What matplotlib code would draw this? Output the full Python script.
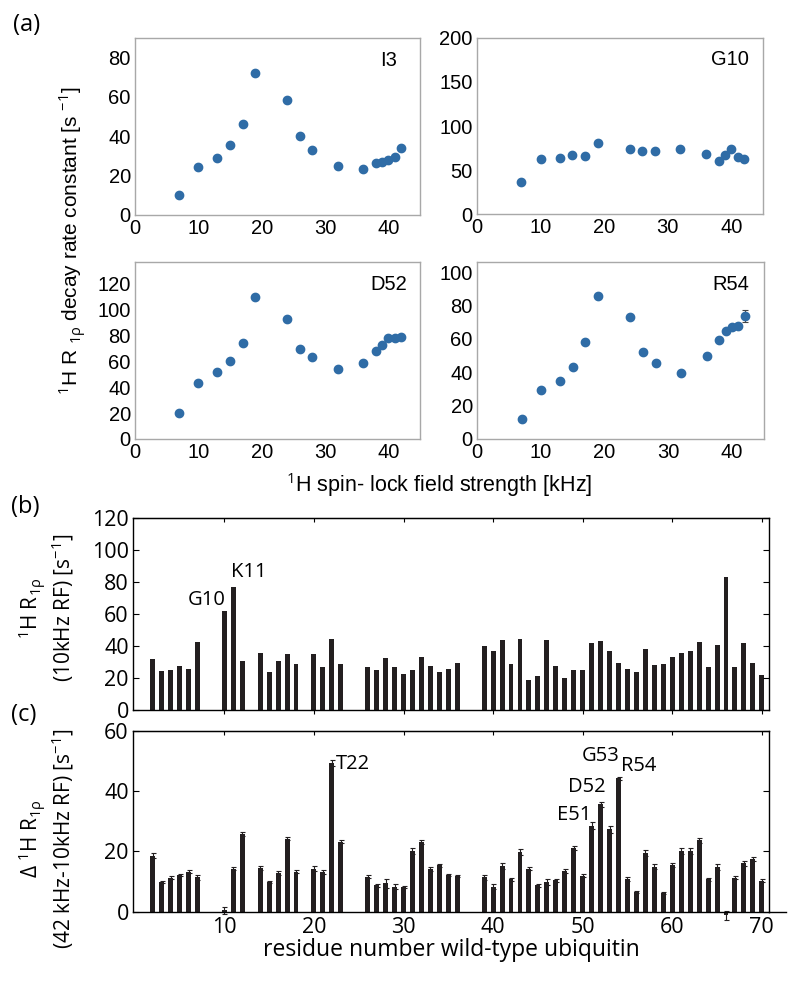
import matplotlib
matplotlib.use("Agg")
import matplotlib.pyplot as plt

plt.rcParams["font.family"] = ["Open Sans", "DejaVu Sans"]
plt.rcParams["mathtext.fontset"] = "custom"
plt.rcParams["mathtext.rm"] = "Open Sans"
plt.rcParams["mathtext.it"] = "Open Sans:italic"

# ---- panel (a): R1rho dispersion for four residues ----
spin_lock_khz = [7, 10, 13, 15, 17, 19, 24, 26, 28, 32, 36, 38, 39, 40, 41, 42]
i3_rate = [10.1, 24.5, 29.1, 35.7, 46.4, 72.2, 58.7, 40.4, 32.8, 24.9, 23.5, 26.2, 27.1, 28.1, 29.6, 34.2]
g10_rate = [36.2, 62.3, 63.4, 67.2, 65.7, 80.8, 74.0, 72.0, 72.0, 73.6, 68.7, 60.4, 66.8, 73.6, 65.3, 62.3]
d52_rate = [19.9, 43.2, 51.5, 60.3, 74.0, 110.2, 92.8, 69.8, 63.1, 53.8, 59.0, 68.3, 72.9, 78.4, 78.1, 78.6]
r54_rate = [12.0, 29.2, 34.8, 43.4, 57.8, 85.4, 72.8, 52.0, 45.4, 39.8, 50.0, 59.2, 64.6, 67.0, 67.6, 73.6]
d52_err = [0, 0, 0, 0, 0, 0, 0, 0, 0, 0, 0, 0, 0, 0, 0, 1.5]
r54_err = [0, 0, 0, 0, 0, 0, 0, 0, 0, 0, 0, 0, 0, 0, 0, 3.5]

# ---- panels (b) and (c): per-residue values ----
residues = [2, 3, 4, 5, 6, 7, 10, 11, 12, 14, 15, 16, 17, 18, 20, 21, 22, 23,
            26, 27, 28, 29, 30, 31, 32, 33, 34, 35, 36, 39, 40, 41, 42, 43, 44,
            45, 46, 47, 48, 49, 50, 51, 52, 53, 54, 55, 56, 57, 58, 59, 60, 61,
            62, 63, 64, 65, 66, 67, 68, 69, 70]
r1rho_10khz = [32.1, 24.6, 25.3, 27.7, 25.9, 42.4, 62.1, 76.6, 30.8, 35.6, 23.8, 30.8, 35.2, 28.6, 34.8, 26.9, 44.1, 28.6,
               26.7, 25.3, 32.5, 26.9, 22.2, 25.3, 33.1, 27.7, 23.6, 25.5, 29.4, 39.8, 37.1, 43.5, 28.8, 44.3, 18.8,
               21.5, 43.7, 27.7, 19.7, 25.0, 25.0, 42.0, 43.1, 36.6, 29.2, 25.9, 23.8, 37.9, 28.2, 28.8, 33.1, 35.4,
               37.1, 42.7, 26.7, 40.6, 83.2, 26.9, 42.0, 29.6, 21.7]
delta_r1rho = [18.6, 9.9, 11.2, 12.2, 13.2, 11.4, 0.4, 14.3, 25.7, 14.4, 9.9, 12.8, 24.2, 13.3, 14.3, 13.2, 49.4, 23.3,
               11.6, 8.8, 9.4, 8.3, 8.2, 20.2, 23.1, 14.2, 15.4, 12.2, 11.8, 11.4, 8.3, 15.2, 10.8, 19.7, 14.3,
               8.7, 9.7, 10.4, 13.4, 21.2, 11.9, 28.6, 35.6, 27.3, 44.3, 10.9, 6.6, 19.6, 14.9, 6.2, 15.6, 20.2,
               20.3, 23.7, 10.7, 14.9, -1.2, 11.3, 16.1, 17.6, 10.2]
delta_err = [0.8, 0.4, 0.5, 0.4, 0.5, 0.9, 1.2, 0.4, 0.6, 0.7, 0.4, 0.6, 0.5, 0.6, 0.8, 0.7, 1.0, 0.6,
             0.5, 0.5, 1.5, 0.8, 0.4, 1.0, 0.7, 0.6, 0.6, 0.4, 0.3, 0.8, 0.9, 1.0, 0.5, 1.0, 0.4,
             0.5, 1.0, 0.6, 0.7, 0.7, 0.5, 1.2, 0.8, 1.2, 0.5, 0.7, 0.3, 1.0, 0.8, 0.3, 0.7, 0.9,
             1.0, 0.9, 0.4, 0.9, 1.5, 0.6, 0.8, 0.6, 0.5]

W, H = 800, 983
fig = plt.figure(figsize=(W / 100, H / 100), dpi=100)


def add_axes_px(left, top, right, bottom):
    return fig.add_axes([left / W, 1 - bottom / H, (right - left) / W, (bottom - top) / H])


def dispersion_panel(box, rate, err, ylim, yticks, name, label_xy):
    ax = add_axes_px(*box)
    ax.errorbar(spin_lock_khz, rate, yerr=err, fmt="o", ms=6, color="#2f6ca6",
                ecolor="#444444", elinewidth=0.8, capsize=2.5, capthick=0.8)
    ax.set_xlim(0, 45)
    ax.set_ylim(*ylim)
    ax.set_xticks([0, 10, 20, 30, 40])
    ax.set_yticks(yticks)
    ax.tick_params(length=0, pad=3, labelsize=14.5)
    for lbl in ax.get_xticklabels() + ax.get_yticklabels():
        lbl.set_family("Liberation Sans")
    for spine in ax.spines.values():
        spine.set_color("#a8a8a8")
        spine.set_linewidth(1.0)
    ax.text(*label_xy, name, transform=ax.transAxes, ha="right", va="center",
            fontsize=14.5, family="Liberation Sans")
    return ax


dispersion_panel((135, 38, 420, 215), i3_rate, None, (0, 90), [0, 20, 40, 60, 80], "I3", (0.92, 0.875))
dispersion_panel((477, 38, 763, 214), g10_rate, None, (0, 200), [0, 50, 100, 150, 200], "G10", (0.95, 0.875))
dispersion_panel((135, 262, 420, 439), d52_rate, d52_err, (0, 137), [0, 20, 40, 60, 80, 100, 120], "D52", (0.954, 0.873))
dispersion_panel((477, 262, 764, 439), r54_rate, r54_err, (0, 106), [0, 20, 40, 60, 80, 100], "R54", (0.948, 0.873))

fig.text(72 / W, 1 - 241 / H, r"$^{1}$H R $_{\mathrm{1ρ}}$ decay rate constant [s $^{-1}$]",
         rotation=90, ha="center", va="center", fontsize=15, family="Liberation Sans")
fig.text(439 / W, 1 - 485 / H, r"$^{1}$H spin- lock field strength [kHz]",
         ha="center", va="center", fontsize=15.5, family="Liberation Sans")

BAR_COLOR = "#231f20"
XLIM = (-0.2, 70.8)


def style_bar_axes(ax, ylim, yticks):
    ax.set_xlim(*XLIM)
    ax.set_ylim(*ylim)
    ax.set_yticks(yticks)
    ax.set_xticks(range(10, 71, 10))
    for spine in ax.spines.values():
        spine.set_color("black")
        spine.set_linewidth(1.0)
    ax.tick_params(axis="y", direction="in", left=True, right=True, length=4, labelsize=15.5, pad=3)
    top = ax.secondary_xaxis("top")
    top.set_xticks(range(10, 71, 10))
    top.tick_params(direction="in", length=3, labeltop=False)


# ---- panel (b) ----
axb = add_axes_px(133, 518, 769, 710)
axb.bar(residues, r1rho_10khz, width=0.55, color=BAR_COLOR)
style_bar_axes(axb, (0, 120), [0, 20, 40, 60, 80, 100, 120])
axb.tick_params(axis="x", direction="out", length=3, labelbottom=False)
axb.text(10.1, 69, "G10", ha="right", va="center", fontsize=14.5)
axb.text(10.7, 86, "K11", ha="left", va="center", fontsize=14.5)
fig.text(46 / W, 1 - 608 / H, "$^{1}$H R$_{1\\mathrm{ρ}}$\n(10kHz RF) [s$^{-1}$]",
         rotation=90, ha="center", va="center", fontsize=15, linespacing=1.05)

# ---- panel (c) ----
axc = add_axes_px(133, 731, 769, 911.7)
bars = axc.bar(residues, delta_r1rho, width=0.55, color=BAR_COLOR, yerr=delta_err,
               error_kw=dict(ecolor=BAR_COLOR, elinewidth=0.8, capsize=1.8, capthick=0.8))
for patch in bars.patches:
    patch.set_clip_on(False)
for line in bars.errorbar.lines[2]:
    line.set_clip_on(False)
for line in bars.errorbar.lines[1]:
    line.set_clip_on(False)
style_bar_axes(axc, (0, 60), [0, 20, 40, 60])
axc.tick_params(axis="x", length=0, pad=4, labelsize=15.5)
axc.plot([XLIM[1], 72.7], [0, 0], color="black", lw=1.0, clip_on=False)
axc.set_xlabel("residue number wild-type ubiquitin", fontsize=16.5, labelpad=0)
axc.text(22.5, 49, "T22", ha="left", va="center", fontsize=14.5)
axc.text(51.0, 32, "E51", ha="right", va="center", fontsize=14.5)
axc.text(52.6, 41.5, "D52", ha="right", va="center", fontsize=14.5)
axc.text(54.1, 51.7, "G53", ha="right", va="center", fontsize=14.5)
axc.text(54.3, 48.4, "R54", ha="left", va="center", fontsize=14.5)
fig.text(46 / W, 1 - 839 / H, "Δ $^{1}$H R$_{1\\mathrm{ρ}}$\n(42 kHz-10kHz RF) [s$^{-1}$]",
         rotation=90, ha="center", va="center", fontsize=15, linespacing=1.05)

fig.text(13 / W, 1 - 25 / H, "(a)", ha="left", va="center", fontsize=17)
fig.text(11 / W, 1 - 507 / H, "(b)", ha="left", va="center", fontsize=17)
fig.text(11 / W, 1 - 715 / H, "(c)", ha="left", va="center", fontsize=17)

fig.savefig("out.png", dpi=100)
